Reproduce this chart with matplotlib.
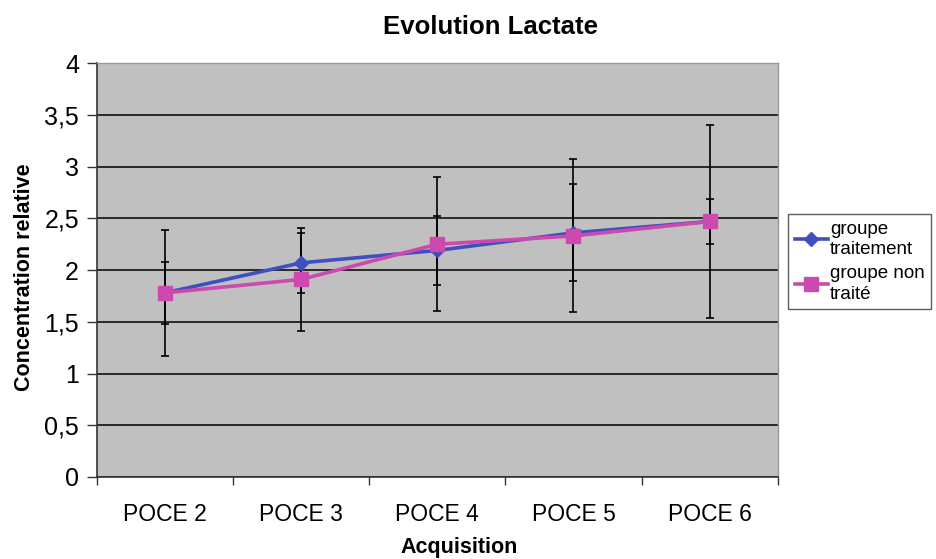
import matplotlib.pyplot as plt
import numpy as np

# --- Data ---
CATEGORIES = ["POCE 2", "POCE 3", "POCE 4", "POCE 5", "POCE 6"]
TREATED = [1.78, 2.07, 2.19, 2.36, 2.47]
TREATED_ERR = [0.30, 0.29, 0.33, 0.47, 0.22]
UNTREATED = [1.78, 1.91, 2.25, 2.33, 2.47]
UNTREATED_ERR = [0.61, 0.50, 0.65, 0.74, 0.93]
YTICKS = [0, 0.5, 1, 1.5, 2, 2.5, 3, 3.5, 4]

BLUE = "#3f4fbf"
PINK = "#cc49b0"

plt.rcParams["font.family"] = ["Liberation Sans", "DejaVu Sans"]

fig = plt.figure(figsize=(9.37, 5.59), dpi=100)
ax = fig.add_axes([0.1035, 0.1467, 0.7265, 0.7403])
ax.set_facecolor("#c0c0c0")

x = np.arange(len(CATEGORIES))

# --- Error bars (behind lines) ---
ax.errorbar(x, TREATED, yerr=TREATED_ERR, fmt="none", ecolor="black",
            elinewidth=1.2, capsize=3, capthick=1.2, zorder=3)
ax.errorbar(x, UNTREATED, yerr=UNTREATED_ERR, fmt="none", ecolor="black",
            elinewidth=1.2, capsize=3, capthick=1.2, zorder=3)

# --- Lines ---
ax.plot(x, TREATED, color=BLUE, lw=2.6, marker="D", ms=7,
        label="groupe\ntraitement", zorder=4)
ax.plot(x, UNTREATED, color=PINK, lw=2.6, marker="s", ms=10,
        label="groupe non\ntraité", zorder=5)

# --- Axes ---
ax.set_xlim(-0.5, len(CATEGORIES) - 0.5)
ax.set_ylim(0, 4)
ax.set_yticks(YTICKS)
ax.set_yticklabels([f"{v:g}".replace(".", ",") for v in YTICKS], fontsize=18)
ax.set_xticks(x)
ax.set_xticklabels(CATEGORIES, fontsize=16.5)
ax.set_xticks(np.arange(-0.5, len(CATEGORIES)), minor=True)
ax.tick_params(axis="x", which="major", length=0, pad=19)
ax.tick_params(axis="x", which="minor", length=6, width=1, color="#333333")
ax.tick_params(axis="y", length=7, width=1, color="#333333", pad=6)

ax.grid(axis="y", color="black", lw=1.1)
ax.set_axisbelow(True)

for side in ["left", "bottom"]:
    ax.spines[side].set_color("#333333")
    ax.spines[side].set_linewidth(1.2)
for side in ["top", "right"]:
    ax.spines[side].set_color("#999999")
    ax.spines[side].set_linewidth(1.0)

# --- Titles ---
fig.text(0.524, 0.952, "Evolution Lactate", ha="center", va="center",
         fontsize=18.5, fontweight="bold")
fig.text(0.49, 0.021, "Acquisition", ha="center", va="center",
         fontsize=15.5, fontweight="bold")
fig.text(0.026, 0.505, "Concentration relative", ha="center", va="center",
         rotation=90, fontsize=15.5, fontweight="bold")

# --- Legend ---
leg = fig.legend(loc="upper left", bbox_to_anchor=(788 / 937, 1 - 214 / 559),
                 fontsize=13.5, frameon=True, fancybox=False, edgecolor="#333333",
                 handlelength=1.8, handletextpad=0.1, borderpad=0.35,
                 labelspacing=0.35, borderaxespad=0)
leg.get_frame().set_linewidth(1.0)
for t in leg.get_texts():
    t.set_linespacing(1.3)

fig.savefig("out.png", dpi=100)
